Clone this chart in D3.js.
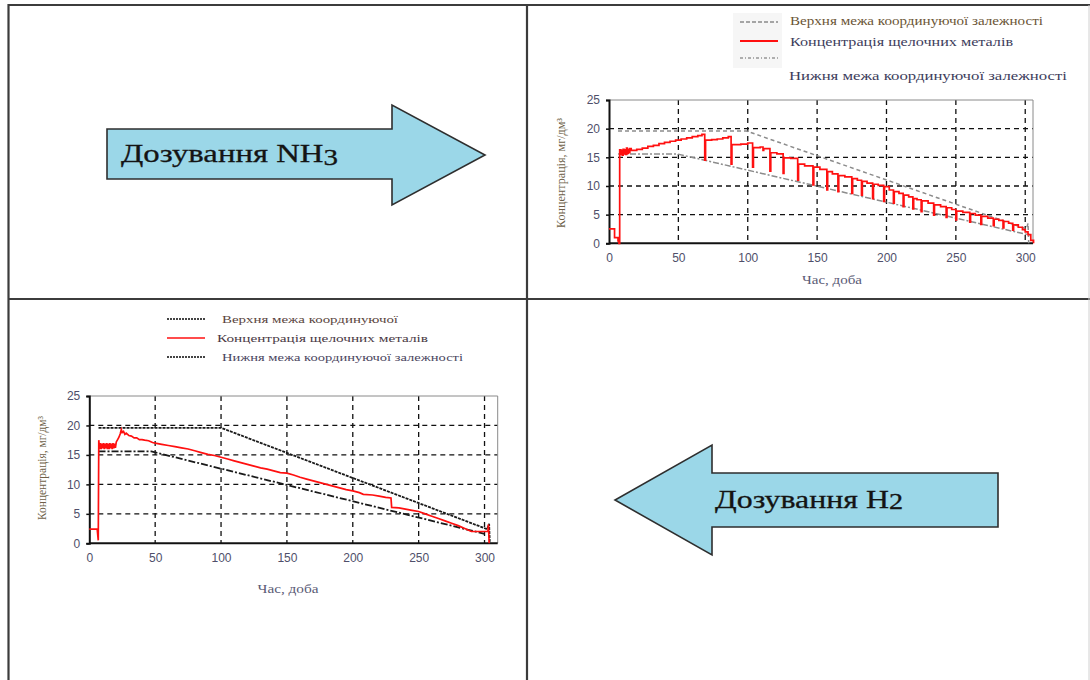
<!DOCTYPE html>
<html>
<head>
<meta charset="utf-8">
<script src="https://cdn.jsdelivr.net/npm/d3@7/dist/d3.min.js"></script>
<style>
  html, body { margin: 0; padding: 0; background: #fff; }
  svg { display: block; }
</style>
</head>
<body>
<svg id="chart" width="1090" height="680"></svg>
<script>
// ---- shared axis values ----
const dayTicks = [0, 50, 100, 150, 200, 250, 300];
const concTicks = [0, 5, 10, 15, 20, 25];

// ---- NH3 dosing: alkali metal concentration (day, mg/dm3) ----
const nh3Days = [0, 4, 6.5, 7.2, 7.7, 8.5, 9, 9.6, 10.2, 10.8, 11.4, 12, 12.6, 13.2, 13.8, 14.4, 15, 16,
  20, 24, 28, 32, 36, 40, 44, 48, 52, 56, 60, 64, 67,
  69, 69.6, 74, 78, 82, 86, 88, 88.6, 95, 100, 103.5, 104.1, 109, 111, 111.5, 116, 116.6, 121,
  125.5, 126.1, 131, 136, 136.6, 141, 147, 147.6, 152, 157, 157.6, 161, 165, 165.6, 170,
  175, 175.6, 179, 182, 182.6, 186, 190, 190.6, 194, 198, 198.6, 202, 205, 205.6, 209,
  212, 212.6, 216, 219, 219.6, 222, 225, 225.6, 230, 234, 234.6, 239, 243, 243.6, 247,
  250, 250.6, 255, 260, 260.6, 264, 268, 268.6, 273, 277, 277.6, 281, 284, 284.6, 288,
  291, 291.6, 295, 298, 300, 302, 304, 306];
const nh3Conc = [2.5, 1.0, 0.4, 0, 16.3, 15.5, 16.2, 15.4, 16.4, 15.6, 16.3, 15.5, 16.6, 15.7, 16.4, 15.8, 16.5, 16.2,
  16.4, 16.6, 16.9, 17.1, 17.4, 17.6, 17.8, 18.0, 18.2, 18.4, 18.6, 18.8, 19.0,
  14.5, 18.0, 18.1, 18.2, 18.4, 18.6, 13.8, 17.2, 17.3, 17.5, 13.3, 16.7, 16.8, 16.2, 16.5, 12.6, 15.8, 15.6,
  12.2, 14.9, 14.8, 11.0, 13.8, 13.5, 10.2, 13.3, 12.9, 9.3, 12.5, 12.1, 9.0, 11.8, 11.6,
  8.7, 11.3, 11.0, 8.4, 10.8, 10.5, 7.8, 10.3, 10.1, 7.3, 9.9, 9.3, 7.0, 9.0, 8.7,
  6.4, 8.4, 8.1, 6.0, 7.8, 7.6, 5.5, 7.4, 7.0, 4.9, 6.7, 6.4, 4.5, 6.2, 5.9,
  4.1, 5.6, 5.4, 3.7, 5.2, 4.9, 3.3, 4.7, 4.4, 3.1, 4.2, 4.0, 2.7, 3.8, 3.5,
  2.3, 3.2, 2.8, 2.4, 2.0, 1.5, 0.5, 0];

// coordinating-dependence bounds for the NH3 period
const nh3UpperDays = [6.5, 99, 301, 302, 302.5];
const nh3UpperConc = [19.6, 19.6, 2.5, 3.5, 0];
const nh3LowerDays = [6.5, 49, 300, 303];
const nh3LowerConc = [15.6, 15.6, 1.6, 1.5];

// ---- H2 dosing: alkali metal concentration ----
const h2Days = [0, 6, 6.8, 7.2, 7.8, 8.4, 9, 9.6, 10.2, 10.8, 11.4, 12, 12.6, 13.2, 13.8, 14.4, 15, 15.6,
  16.2, 16.8, 17.4, 18, 18.6, 19.2, 19.8, 20.5, 21.5, 22.5, 23.5, 24.3, 25, 26, 27, 28, 30, 32,
  34, 36, 38, 40, 42, 45, 48, 50, 55, 60, 65, 70, 75, 80, 85, 90, 95, 100, 105, 110, 115, 120,
  125, 130, 135, 140, 145, 150, 155, 160, 165, 170, 175, 180, 185, 190, 195, 200, 205, 208,
  215, 220, 225, 229, 229.5, 235, 240, 245, 250, 255, 260, 265, 270, 275, 280, 285, 290,
  295, 300, 302.5, 303, 303.5];
const h2Conc = [2.4, 2.4, 0.5, 17.5, 16.0, 17.0, 16.0, 16.9, 16.1, 17.0, 16.0, 16.9, 16.1, 17.0, 16.0, 16.9, 16.0, 17.0,
  16.1, 16.9, 16.0, 17.0, 16.1, 16.9, 16.2, 17.2, 17.6, 18.0, 18.6, 19.3, 18.8, 19.0, 18.5, 18.7, 18.3, 18.2,
  17.9, 17.9, 17.6, 17.6, 17.5, 17.4, 17.1, 17.0, 16.8, 16.6, 16.4, 16.2, 16.0, 15.7, 15.4, 15.1, 14.9, 14.6, 14.3, 14.0, 13.7, 13.4,
  13.1, 12.8, 12.6, 12.3, 12.0, 11.9, 11.6, 11.2, 10.9, 10.6, 10.3, 10.0, 9.7, 9.4, 9.1, 8.9, 8.6, 8.3,
  8.2, 8.0, 7.8, 7.7, 6.1, 6.0, 5.8, 5.6, 5.4, 5.0, 4.6, 4.2, 3.8, 3.4, 3.0, 2.5, 2.0,
  2.0, 2.0, 2.0, 3.2, 0];

const h2UpperDays = [7, 100, 302, 303.5, 304];
const h2UpperConc = [19.6, 19.6, 2.4, 3.3, 0];
const h2LowerDays = [7, 47, 300];
const h2LowerConc = [15.6, 15.6, 1.6];

// ---- legend / label texts ----
const legendNH3 = ["Верхня межа координуючої залежності", "Концентрація щелочних металів", "Нижня межа координуючої залежності"];
const legendH2 = ["Верхня межа координуючої", "Концентрація щелочних металів", "Нижня межа координуючої залежності"];
const xTitle = "Час, доба";
const yTitle = "Концентрація, мг/дм³";

const zip = (xs, ys) => xs.map((x, i) => [x, ys[i]]);
const SERIF = "Liberation Serif, Times New Roman, serif";

const svg = d3.select("#chart");
svg.append("rect").attr("width", 1090).attr("height", 680).attr("fill", "#fff");

// ---- panel frame ----
const frame = svg.append("g").attr("stroke", "#3c3c3c").attr("stroke-width", 2.2).attr("fill", "none");
frame.append("line").attr("x1", 8).attr("x2", 1090).attr("y1", 5).attr("y2", 5);
frame.append("line").attr("x1", 8.5).attr("x2", 8.5).attr("y1", 4).attr("y2", 680);
frame.append("line").attr("x1", 527).attr("x2", 527).attr("y1", 4).attr("y2", 680);
frame.append("line").attr("x1", 8).attr("x2", 1090).attr("y1", 299).attr("y2", 299);
svg.append("line").attr("x1", 1089).attr("x2", 1089).attr("y1", 5).attr("y2", 680)
  .attr("stroke", "#d0d0d0").attr("stroke-width", 1);

// ---- dosing arrows ----
function arrow(pts, base, sub, subDy, tx, ty, tlen) {
  svg.append("polygon")
    .attr("points", pts.map(p => p.join(",")).join(" "))
    .attr("fill", "#9bd7e8").attr("stroke", "#2e2e2e").attr("stroke-width", 1.6);
  const t = svg.append("text").attr("x", tx).attr("y", ty)
    .attr("font-family", SERIF).attr("font-size", 26)
    .attr("fill", "#141414").attr("stroke", "#141414").attr("stroke-width", 0.3)
    .attr("textLength", tlen).attr("lengthAdjust", "spacingAndGlyphs");
  t.append("tspan").text(base);
  t.append("tspan").attr("dy", subDy).attr("font-size", 23).text(sub);
}
arrow([[107, 129], [392, 129], [392, 105], [485, 155], [392, 205], [392, 179], [107, 179]], "Дозування NH", "3", 3, 121, 162, 217);
arrow([[998, 473], [712, 473], [712, 445], [615, 500], [712, 555], [712, 527], [998, 527]], "Дозування H", "2", 1, 715, 508, 188);

// ---- chart drawing ----
function drawChart(cfg) {
  const g = svg.append("g");
  const x = d3.scaleLinear().domain([0, cfg.xMax]).range([cfg.left, cfg.right]);
  const y = d3.scaleLinear().domain([0, 25]).range([cfg.bottom, cfg.top]);

  // grid
  const grid = g.append("g").attr("stroke", "#111").attr("stroke-width", 1.3).attr("stroke-dasharray", "5,4");
  grid.selectAll("line.v").data(dayTicks.slice(1)).join("line")
    .attr("x1", d => x(d)).attr("x2", d => x(d)).attr("y1", cfg.top).attr("y2", cfg.bottom);
  grid.selectAll("line.h").data(concTicks.slice(1, -1)).join("line").attr("class", "h")
    .attr("x1", cfg.left).attr("x2", cfg.right).attr("y1", d => y(d)).attr("y2", d => y(d));

  // top and right frame
  g.append("path").attr("fill", "none").attr("stroke", "#8a8a8a").attr("stroke-width", 1)
    .attr("d", `M${cfg.left},${cfg.top}H${cfg.right}V${cfg.bottom}`);

  // axes
  const yAxis = g.append("g").attr("transform", `translate(${cfg.left},0)`)
    .call(d3.axisLeft(y).tickValues(concTicks).tickSize(3).tickPadding(6));
  const xAxis = g.append("g").attr("transform", `translate(0,${cfg.bottom})`)
    .call(d3.axisBottom(x).tickValues(dayTicks).tickSize(0).tickPadding(10));
  [yAxis, xAxis].forEach(a => {
    a.select(".domain").attr("stroke", "#111").attr("stroke-width", 2);
    a.selectAll(".tick line").attr("stroke", "#111").attr("stroke-width", 1.5);
    a.selectAll(".tick text").attr("font-family", "Liberation Sans, Arial, sans-serif")
      .attr("font-size", 12).attr("fill", "#4f4f6a");
  });
  xAxis.select(".domain").attr("d", `M${cfg.left},0H${cfg.right}`);

  // series
  const line = d3.line().x(d => x(d[0])).y(d => y(d[1]));
  g.append("path").datum(cfg.upper).attr("fill", "none").attr("stroke", cfg.boundColor)
    .attr("stroke-width", cfg.boundWidth).attr("stroke-dasharray", cfg.upperDash)
    .attr("d", line);
  g.append("path").datum(cfg.lower).attr("fill", "none").attr("stroke", cfg.boundColor)
    .attr("stroke-width", cfg.boundWidth).attr("stroke-dasharray", cfg.lowerDash)
    .attr("d", line);
  g.append("path").datum(cfg.conc).attr("fill", "none").attr("stroke", "#ff1010")
    .attr("stroke-width", 1.7).attr("stroke-linejoin", "miter")
    .attr("d", line.curve(cfg.curve));

  // titles
  g.append("text").attr("x", cfg.xTitleX).attr("y", cfg.xTitleY).attr("text-anchor", "middle")
    .attr("font-family", SERIF).attr("font-size", 12)
    .attr("textLength", cfg.xTitleLen).attr("lengthAdjust", "spacingAndGlyphs")
    .attr("fill", "#5a5a75").text(xTitle);
  g.append("text").attr("transform", `translate(${cfg.yTitleX},${cfg.yTitleY}) rotate(-90)`)
    .attr("text-anchor", "middle").attr("dominant-baseline", "middle")
    .attr("font-family", SERIF).attr("font-size", 11.5)
    .attr("textLength", cfg.yTitleLen).attr("lengthAdjust", "spacingAndGlyphs")
    .attr("fill", "#6e5f48").text(yTitle);
}

drawChart({
  xMax: 305.6, left: 609, right: 1033, top: 100, bottom: 243.3,
  conc: zip(nh3Days, nh3Conc), upper: zip(nh3UpperDays, nh3UpperConc), lower: zip(nh3LowerDays, nh3LowerConc),
  boundColor: "#8c8c8c", boundWidth: 1.5, upperDash: "4,3", lowerDash: "6,2,2,2",
  curve: d3.curveStepAfter,
  xTitleX: 832, xTitleY: 284, xTitleLen: 60, yTitleX: 562, yTitleY: 173, yTitleLen: 110
});
drawChart({
  xMax: 310, left: 89.3, right: 497.7, top: 396, bottom: 543.3,
  conc: zip(h2Days, h2Conc), upper: zip(h2UpperDays, h2UpperConc), lower: zip(h2LowerDays, h2LowerConc),
  boundColor: "#1a1a1a", boundWidth: 1.8, upperDash: "3,1", lowerDash: "7,2,2,2",
  curve: d3.curveLinear,
  xTitleX: 288, xTitleY: 593, xTitleLen: 61, yTitleX: 43, yTitleY: 468, yTitleLen: 104
});

// ---- legends ----
function legend(items, cfg) {
  const g = svg.append("g");
  if (cfg.box) g.append("rect").attr("x", cfg.box[0]).attr("y", cfg.box[1])
    .attr("width", cfg.box[2]).attr("height", cfg.box[3]).attr("fill", "#f6f6f6");
  items.forEach((t, i) => {
    g.append("line").attr("x1", cfg.lx0).attr("x2", cfg.lx1)
      .attr("y1", cfg.lineY[i]).attr("y2", cfg.lineY[i])
      .attr("stroke", cfg.strokes[i]).attr("stroke-width", cfg.widths[i])
      .attr("stroke-dasharray", cfg.dashes[i]);
    g.append("text").attr("x", cfg.textX[i]).attr("y", cfg.textY[i]).attr("dominant-baseline", "middle")
      .attr("font-family", SERIF).attr("font-size", cfg.size)
      .attr("fill", cfg.colors[i]).attr("textLength", cfg.lens[i]).attr("lengthAdjust", "spacingAndGlyphs")
      .text(t);
  });
}
legend(legendNH3, {
  box: [733, 13, 49, 55],
  lx0: 740, lx1: 778, lineY: [22, 41, 58],
  strokes: ["#555", "#ff1010", "#666"], widths: [1.2, 1.8, 1.2], dashes: ["4,2", null, "3,2,1,2"],
  textX: [790, 790, 789], textY: [22, 43, 77], lens: [253, 223, 278],
  colors: ["#6b5535", "#3d3d5c", "#3d3d5c"], size: 12
});
legend(legendH2, {
  lx0: 167, lx1: 205, lineY: [319, 338, 357],
  strokes: ["#444", "#ff1010", "#444"], widths: [2, 1.6, 2], dashes: ["2,1", null, "2,1"],
  textX: [222, 217, 222], textY: [320, 339, 358], lens: [176, 211, 241],
  colors: ["#5a4540", "#4a3a45", "#4a4560"], size: 11
});
</script>
</body>
</html>
